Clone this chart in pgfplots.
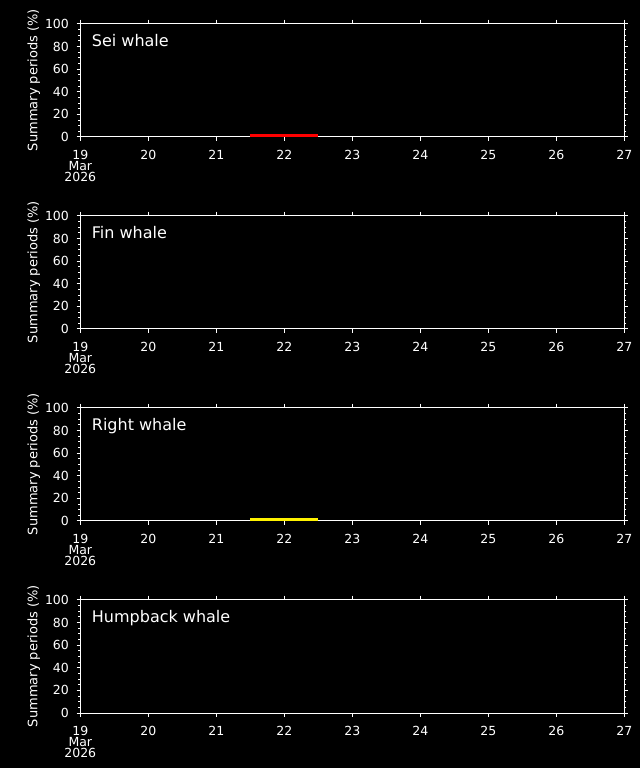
\documentclass[border=0pt]{standalone}
\usepackage{fontspec}
\setmainfont{DejaVu Sans}
\usepackage{pgfplots}
\pgfplotsset{compat=1.18}
\pgfplotsset{
  panel/.style={
    scale only axis, width=544pt, height=113.7pt,
    anchor=south west,
    xmin=19, xmax=27, ymin=0, ymax=100.6,
    clip=false,
    axis line style={white, line width=1pt},
    every tick/.style={white, line width=1pt},
    tick align=outside,
    major tick length=3.6pt, minor tick length=2pt,
    xtick={19,...,27},
    xticklabels={{19\\Mar\\2026},20,21,22,23,24,25,26,27},
    ytick={0,20,...,100},
    minor y tick num=3,
    /pgf/number format/assume math mode=true,
    tick label style={text=white, font=\fontsize{12.5}{11.3}\selectfont},
    xticklabel style={align=center, inner sep=0pt, yshift=-9pt, text=white, font=\fontsize{12.5}{11.3}\selectfont},
    yticklabel style={inner sep=0pt, xshift=-7.6pt, text=white, font=\fontsize{12.5}{11.3}\selectfont},
  },
}
\tikzset{
  ptitle/.style={anchor=base west, inner sep=0pt, text=white, font=\fontsize{16}{18}\selectfont},
  plabel/.style={rotate=90, anchor=base, inner sep=0pt, text=white, font=\fontsize{13}{15}\selectfont},
}
\begin{document}
\begin{tikzpicture}[x=1pt,y=1pt]
\path[use as bounding box, fill=black] (0,0) rectangle (640,768);
% Sei whale
\begin{axis}[panel, at={(80.3pt,631pt)}]
\addplot[ybar interval, fill=red, draw=none] coordinates {(21.5,2.4) (22.5,2.4)};
\node[ptitle] at (axis description cs:0.021,0.794) {Sei whale};
\node[plabel] at (axis description cs:-0.079,0.5) {Summary periods (\%)};
\end{axis}
% Fin whale
\begin{axis}[panel, at={(80.3pt,439pt)}]
\addplot[ybar interval, fill=none, draw=none] coordinates {(21.5,0) (22.5,0)};
\node[ptitle] at (axis description cs:0.021,0.794) {Fin whale};
\node[plabel] at (axis description cs:-0.079,0.5) {Summary periods (\%)};
\end{axis}
% Right whale
\begin{axis}[panel, at={(80.3pt,247pt)}]
\addplot[ybar interval, fill=yellow, draw=none] coordinates {(21.5,2.4) (22.5,2.4)};
\node[ptitle] at (axis description cs:0.021,0.794) {Right whale};
\node[plabel] at (axis description cs:-0.079,0.5) {Summary periods (\%)};
\end{axis}
% Humpback whale
\begin{axis}[panel, at={(80.3pt,55pt)}]
\addplot[ybar interval, fill=none, draw=none] coordinates {(21.5,0) (22.5,0)};
\node[ptitle] at (axis description cs:0.021,0.794) {Humpback whale};
\node[plabel] at (axis description cs:-0.079,0.5) {Summary periods (\%)};
\end{axis}
\end{tikzpicture}
\end{document}
